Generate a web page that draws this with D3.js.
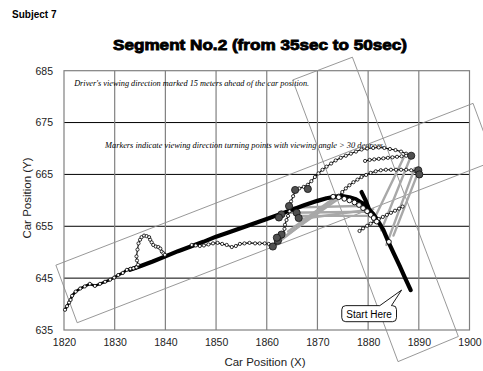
<!DOCTYPE html>
<html><head><meta charset="utf-8">
<script src="https://cdn.jsdelivr.net/npm/d3@7/dist/d3.min.js"></script>
<style>html,body{margin:0;padding:0;background:#fff}svg{display:block}</style>
</head><body>
<svg id="chart" width="483" height="371"></svg>
<script>
// ---------------- data ----------------
const xTicks = [1820,1830,1840,1850,1860,1870,1880,1890,1900];
const yTicks = [635,645,655,665,675,685];

// car trajectory (thick black); null = break
const carX = [1888.4,1887.3,1886.2,1885.1,1884.0,1883.0,1881.9,1880.9,1879.9,1878.8,1877.6,1876.3,1874.9,1873.4,1871.8,1870.0,1867.5,1865.0,1862.5,1860.0,1856.5,1853.0,1850.0,1847.5,1845.0,1842.5,1840.0,1837.5,1835.0,1833.0,null,1880.3,1879.5,1878.7];
const carY = [642.7,645.0,647.4,649.7,652.0,654.3,656.1,657.5,658.6,659.5,660.2,660.6,660.8,660.7,660.4,659.9,659.1,658.2,657.3,656.4,655.2,654.0,653.0,652.0,651.1,650.2,649.2,648.2,647.3,646.6,null,658.0,660.0,661.6];

// viewing direction 15 m ahead (line with small open markers); null = break
const viewX = [1820.2,1820.6,1821.0,1821.3,1821.6,1822.3,1823.2,1824.1,1825.1,1826.1,1827.1,1828.1,1829.1,1829.9,1830.7,1831.6,1832.4,1833.1,1833.7,1834.3,
  null,
  1834.3,1834.6,1834.4,1834.3,1834.5,1834.7,1835.0,1835.3,1835.8,1836.3,1836.8,1837.0,1837.3,1837.6,1838.1,1838.6,1839.0,1839.3,1839.6,1839.9,
  null,
  1845.2,1846.0,1846.8,1847.6,1848.5,1849.4,1850.3,1851.2,1852.1,1853.1,1853.9,1854.7,1855.6,1856.6,1857.7,1858.6,1859.6,1860.4,1861.1,1861.8,1862.4,1862.9,1863.3,1863.5,1863.6,1863.9,1864.2,1864.5,1864.6,1864.8,1865.2,1865.6,1866.4,1867.3,1868.1,1868.8,1869.5,1870.2,1871.0,1871.8,1872.7,1873.6,1874.6,1875.6,1876.6,1877.6,1878.7,1879.8,1881.0,1882.1,1883.2,1884.3,1885.4,1886.5,1887.5,1888.4,
  null,
  1879.4,1880.3,1881.2,1882.1,1883.0,1883.9,1884.8,1885.7,1886.6,1887.5,
  null,
  1874.2,1874.9,1875.6,1876.3,1877.1,1877.9,1878.7,1879.6,1880.5,1881.5,1882.5,1883.5,1884.5,1885.5,1886.5,1887.5,1888.5,1889.4,
  null,
  1878.3,1879.0,1879.8,1880.5,1881.3,1882.1,1882.9,1883.7,1884.5,1885.3,1886.1,1886.8];
const viewY = [638.9,639.6,640.3,640.8,641.6,642.4,643.0,643.4,643.9,643.5,643.9,644.3,644.7,645.1,645.6,646.0,646.6,646.8,646.9,647.1,
  null,
  647.1,647.6,648.4,649.2,650.5,651.7,652.4,652.9,653.2,653.1,652.9,652.4,651.9,651.4,651.1,651.0,650.7,650.1,649.8,649.5,
  null,
  651.4,651.3,651.2,651.3,651.5,651.7,651.8,651.6,651.4,651.0,651.2,651.6,651.7,651.8,651.7,651.7,651.7,651.6,651.3,651.8,652.4,653.0,653.7,654.5,655.3,656.2,657.0,657.9,658.8,659.8,660.8,661.8,662.3,662.6,663.0,663.7,664.5,665.2,665.9,666.5,667.1,667.7,668.2,668.6,669.0,669.4,669.8,670.0,670.1,670.2,670.1,669.9,669.7,669.4,669.0,668.6,
  null,
  667.6,667.8,667.9,668.0,668.1,668.2,668.3,668.4,668.5,668.6,
  null,
  660.9,661.6,662.3,662.9,663.5,664.0,664.5,664.9,665.3,665.6,665.8,665.9,665.9,665.9,665.9,665.9,665.8,665.6,
  null,
  654.1,654.6,655.1,655.5,656.0,656.4,656.8,657.2,657.6,658.0,658.4,658.8];

// car positions shown with large open markers
const carMarkX = [1873.1,1874.2,1875.3,1876.3,1877.3,1878.2,1879.0,1879.8,1880.5,1881.1,1881.7,1884.1];
const carMarkY = [660.7,660.6,660.3,660.0,659.6,659.1,658.5,657.9,657.2,656.6,655.9,652.0];

// turning points (viewing angle > 30 degrees)
const turnX = [1865.6,1868.1,1864.4,1862.9,1862.4,1865.9,1866.3,1862.9,1862.2,1861.2,1888.5,1889.9,1890.1,1862.0];
const turnY = [662.0,662.2,658.9,657.3,656.7,657.6,656.6,653.4,652.2,651.1,668.6,665.8,665.0,652.8];

// viewing-direction sight lines (from car to viewed point)
const sightX1 = [1861.6,1862.6,1864.2,1864.5,1865.9,1864.4,1866.0,1883.6,1885.0,1882.6,1881.0];
const sightY1 = [651.4,652.4,654.0,657.6,657.0,658.6,656.3,651.4,653.2,654.2,656.0];
const sightX2 = [1873.5,1874.6,1872.8,1880.0,1880.4,1878.0,1881.0,1889.2,1889.9,1888.4,1887.0];
const sightY2 = [660.4,660.6,660.1,657.8,657.0,658.9,658.3,666.2,665.5,668.4,668.2];

// rotated frames
const frameAX = [1818.4,1900.7,1904.9,1822.6];
const frameAY = [647.5,678.7,667.6,636.4];
const frameBX = [1865.1,1876.9,1897.8,1885.9];
const frameBY = [683.2,687.6,633.75,628.9];

const title = "Segment No.2 (from 35sec to 50sec)";
const subjectLabel = "Subject 7";
const note1 = "Driver's viewing direction marked 15 meters ahead of the car position.";
const note2 = "Markers indicate viewing direction turning points with viewing angle > 30 degrees.";
const calloutText = "Start Here";

// ---------------- drawing ----------------
const svg = d3.select("#chart");
const x = d3.scaleLinear().domain([1820,1900]).range([64,469.5]);
const y = d3.scaleLinear().domain([635,685]).range([330,70.7]);
const SANS = "'Liberation Sans', Arial, sans-serif";
const SERIF = "'Liberation Serif', 'Times New Roman', serif";

svg.append("rect").attr("width",483).attr("height",371).attr("fill","#fff");

svg.append("text").attr("x",12).attr("y",18).text(subjectLabel)
  .attr("font-family",SANS).attr("font-weight","bold").attr("font-size",10);
svg.append("text").attr("x",113).attr("y",50).text(title)
  .attr("font-family",SANS).attr("font-weight","bold").attr("font-size",15.5)
  .attr("textLength",294).attr("lengthAdjust","spacingAndGlyphs")
  .attr("stroke","#000").attr("stroke-width",0.9);

// grid
const g = svg.append("g");
g.selectAll(".hg").data(yTicks.slice(1,-1)).join("line")
  .attr("x1",x(1820)).attr("x2",x(1900)).attr("y1",d=>y(d)).attr("y2",d=>y(d))
  .attr("stroke","#000").attr("stroke-width",1);
g.selectAll(".vg").data(xTicks.slice(1,-1)).join("line")
  .attr("y1",y(685)).attr("y2",y(635)).attr("x1",d=>x(d)).attr("x2",d=>x(d))
  .attr("stroke","#808080").attr("stroke-width",1.2);
g.append("rect").attr("x",x(1820)).attr("y",y(685))
  .attr("width",x(1900)-x(1820)).attr("height",y(635)-y(685))
  .attr("fill","none").attr("stroke","#808080").attr("stroke-width",1.2);

// axes
const ax = svg.append("g").attr("transform",`translate(0,${y(635)})`)
  .call(d3.axisBottom(x).tickValues(xTicks).tickSize(0).tickPadding(9).tickFormat(d3.format("d")));
ax.select(".domain").remove();
ax.selectAll("text").attr("font-family",SANS).attr("font-size",10.5).attr("fill","#222");
const ay = svg.append("g").attr("transform",`translate(${x(1820)},0)`)
  .call(d3.axisLeft(y).tickValues(yTicks).tickSize(0).tickPadding(11).tickFormat(d3.format("d")));
ay.select(".domain").remove();
ay.selectAll("text").attr("font-family",SANS).attr("font-size",10.5).attr("fill","#222");

svg.append("text").attr("x",265).attr("y",366).attr("text-anchor","middle").text("Car Position (X)")
  .attr("font-family",SANS).attr("font-size",11.5).attr("fill","#222");
svg.append("text").attr("transform","translate(31,198) rotate(-90)").attr("text-anchor","middle")
  .text("Car Position (Y)").attr("font-family",SANS).attr("font-size",11.5).attr("fill","#222");

// notes
svg.append("text").attr("x",x(1822)).attr("y",y(682)).text(note1)
  .attr("font-family",SERIF).attr("font-style","italic").attr("font-size",8.4)
  .attr("textLength",235).attr("lengthAdjust","spacingAndGlyphs");
svg.append("text").attr("x",x(1828.1)).attr("y",y(670.1)).text(note2)
  .attr("font-family",SERIF).attr("font-style","italic").attr("font-size",8.4)
  .attr("textLength",280).attr("lengthAdjust","spacingAndGlyphs");

// frames
const poly = (xs,ys) => d3.line()(xs.map((v,i)=>[x(v),y(ys[i])])) + "Z";
svg.append("path").attr("d",poly(frameAX,frameAY)).attr("fill","none").attr("stroke","#8c8c8c").attr("stroke-width",0.9);
svg.append("path").attr("d",poly(frameBX,frameBY)).attr("fill","none").attr("stroke","#8c8c8c").attr("stroke-width",0.9);

// sight lines
svg.append("g").selectAll("line").data(sightX1).join("line")
  .attr("x1",(d,i)=>x(sightX1[i])).attr("y1",(d,i)=>y(sightY1[i]))
  .attr("x2",(d,i)=>x(sightX2[i])).attr("y2",(d,i)=>y(sightY2[i]))
  .attr("stroke","#a8a8a8").attr("stroke-width",2.4).attr("stroke-linecap","round");

// car path
const pts = (xs,ys) => xs.map((v,i)=>[v,ys[i]]);
const ln = d3.line().defined(d=>d[0]!==null).x(d=>x(d[0])).y(d=>y(d[1]));
svg.append("path").attr("d",ln(pts(carX,carY))).attr("fill","none")
  .attr("stroke","#000").attr("stroke-width",4.2).attr("stroke-linejoin","round").attr("stroke-linecap","round");

// view path, split into segments (first segment drawn heavier, as in the original)
const vp = pts(viewX,viewY);
const segs = [];
let cur = [];
vp.forEach(d => { if (d[0]===null) { if (cur.length) segs.push(cur); cur=[]; } else cur.push(d); });
if (cur.length) segs.push(cur);
svg.append("g").selectAll("path").data(segs).join("path")
  .attr("d",d=>ln(d)).attr("fill","none").attr("stroke","#000")
  .attr("stroke-width",(d,i)=>i===0?2.6:1.1).attr("stroke-linejoin","round");
svg.append("g").selectAll("circle").data(vp.filter(d=>d[0]!==null)).join("circle")
  .attr("cx",d=>x(d[0])).attr("cy",d=>y(d[1])).attr("r",1.6)
  .attr("fill","#fff").attr("stroke","#000").attr("stroke-width",0.8);

// car markers
svg.append("g").selectAll("circle").data(pts(carMarkX,carMarkY)).join("circle")
  .attr("cx",d=>x(d[0])).attr("cy",d=>y(d[1])).attr("r",2.4)
  .attr("fill","#fff").attr("stroke","#000").attr("stroke-width",0.9);

// turning points
svg.append("g").selectAll("circle").data(pts(turnX,turnY)).join("circle")
  .attr("cx",d=>x(d[0])).attr("cy",d=>y(d[1])).attr("r",3.6)
  .attr("fill","#505050").attr("stroke","#111").attr("stroke-width",0.8);

// callout
const bx0 = x(1874.8), bx1 = x(1885.6), by0 = y(639.7), by1 = y(636.6);
const tipX = x(1886.6), tipY = y(642.7), bpA = x(1882.3), bpB = x(1884.6);
svg.append("path").attr("d",
  `M${bx0+4},${by0} L${bpA},${by0} L${tipX},${tipY} L${bpB},${by0} L${bx1-4},${by0} Q${bx1},${by0} ${bx1},${by0+4} L${bx1},${by1-4} Q${bx1},${by1} ${bx1-4},${by1} L${bx0+4},${by1} Q${bx0},${by1} ${bx0},${by1-4} L${bx0},${by0+4} Q${bx0},${by0} ${bx0+4},${by0} Z`)
  .attr("fill","#fff").attr("stroke","#000").attr("stroke-width",0.9);
svg.append("text").attr("x",(bx0+bx1)/2).attr("y",by1-4).attr("text-anchor","middle").text(calloutText)
  .attr("font-family",SANS).attr("font-size",10);
</script>
</body></html>
